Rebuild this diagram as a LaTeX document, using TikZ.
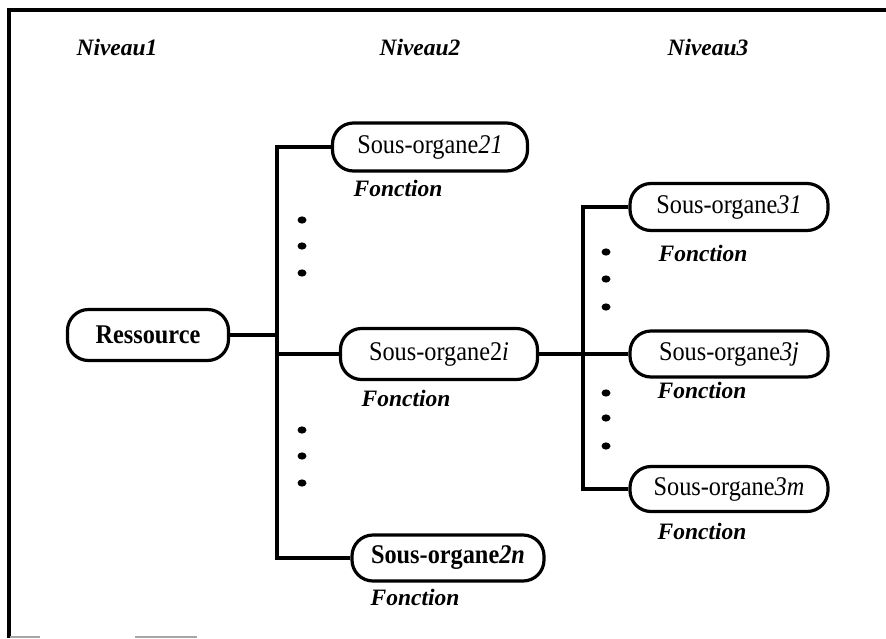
\documentclass[tikz,border=0pt]{standalone}
\usepackage{fontspec}
\setmainfont{Liberation Serif}
\newfontfamily\boxfont[FakeStretch=0.9]{Liberation Serif}
\begin{document}
\begin{tikzpicture}[x=1pt,y=-1pt,
  line width=3.2pt,
  organ/.style={draw, rounded corners=21pt, inner sep=0pt, align=center,
    font=\boxfont\fontsize{27}{30}\selectfont},
  fonct/.style={font=\fontsize{23.5}{26}\selectfont\bfseries\itshape, inner sep=0pt},
  niveau/.style={font=\fontsize{23.5}{26}\selectfont\bfseries\itshape, inner sep=0pt}]
\useasboundingbox (0,0) rectangle (886,638);
% frame: left and top edges, faint remnants at the bottom
\draw[line width=4pt] (9,638) -- (9,10) -- (886,10);
\draw[black!35, line width=1.5pt] (10,637) -- (40,637) (135,637) -- (197,637);

% level headings
\node[niveau] (n1) at (117,47) {Niveau1};
\node[niveau] (n2) at (420,47) {Niveau2};
\node[niveau] (n3) at (708,47) {Niveau3};

% organ boxes
\node[organ, minimum width=161pt, minimum height=51pt] (R) at (148,335) {\bfseries Ressource};
\node[organ, minimum width=195pt, minimum height=48pt] (S21) at (430,147) {Sous-organe\textit{21}};
\node[organ, minimum width=197pt, minimum height=51pt] (S2i) at (439,354) {Sous-organe2\textit{i}};
\node[organ, minimum width=192pt, minimum height=46pt] (S2n) at (448,558) {\bfseries Sous-organe\textit{2n}};
\node[organ, minimum width=198pt, minimum height=47pt] (S31) at (729,207) {Sous-organe\textit{31}};
\node[organ, minimum width=198pt, minimum height=46pt] (S3j) at (729,354) {Sous-organe\textit{3j}};
\node[organ, minimum width=198pt, minimum height=45pt] (S3m) at (729,489) {Sous-organe\textit{3m}};

% function labels
\node[fonct] (F21) at (398,188) {Fonction};
\node[fonct] (F2i) at (406,398) {Fonction};
\node[fonct] (F2n) at (415,597) {Fonction};
\node[fonct] (F31) at (703,253) {Fonction};
\node[fonct] (F3j) at (702,390) {Fonction};
\node[fonct] (F3m) at (702,531) {Fonction};

% trunks
\coordinate (t2a) at (277,147);
\coordinate (t2b) at (277,558);
\coordinate (t3a) at (583,207);
\coordinate (t3b) at (583,489);

\draw (S21.west) -- (t2a) -- (t2b) -- (S2n.west);
\draw (R.east) -- (R.east -| t2a);
\draw (S2i.west) -- (S2i.west -| t2a);
\draw (S31.west) -- (t3a) -- (t3b) -- (S3m.west);
\draw (S2i.east) -- (S3j.west);

% ellipsis dots
\foreach \y in {220,246,273,430,456,483}
  \fill (302,\y) ellipse [x radius=4.5pt, y radius=3.6pt];
\foreach \y in {252,279,307,393,418,446}
  \fill (606,\y) ellipse [x radius=4.5pt, y radius=3.6pt];
\end{tikzpicture}
\end{document}
